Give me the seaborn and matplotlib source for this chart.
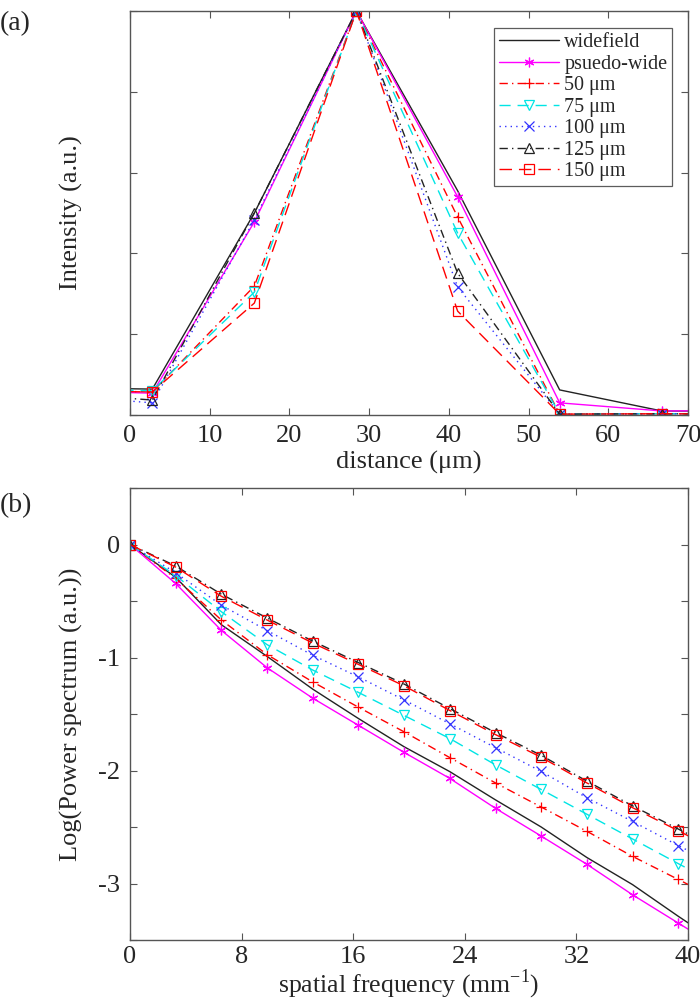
import matplotlib
matplotlib.use("Agg")
import matplotlib.pyplot as plt
import seaborn as sns

sns.set_style("ticks")
plt.rcParams['font.family'] = ['Liberation Serif', 'DejaVu Serif']
plt.rcParams['mathtext.fontset'] = 'custom'
plt.rcParams['mathtext.rm'] = 'Liberation Serif'

# ---- panel (a): line profile across the spot ----
distance = [-10.0, 2.8, 15.6, 28.4, 41.1, 53.9, 66.7, 79.5]
prof_widefield = [0.068, 0.064, 0.500, 1.0, 0.555, 0.062, 0.010, 0.009]
prof_pseudo = [0.060, 0.054, 0.478, 1.0, 0.540, 0.030, 0.010, 0.011]
prof_50 = [0.062, 0.057, 0.319, 1.0, 0.490, 0.002, 0.003, 0.002]
prof_75 = [0.066, 0.060, 0.304, 1.0, 0.450, 0.002, 0.003, 0.002]
prof_100 = [0.050, 0.030, 0.483, 1.0, 0.317, 0.002, 0.003, 0.002]
prof_125 = [0.055, 0.037, 0.500, 1.0, 0.351, 0.002, 0.003, 0.002]
prof_150 = [0.060, 0.057, 0.277, 1.0, 0.257, 0.002, 0.003, 0.002]

# ---- panel (b): log power spectrum ----
freq = [0.0, 3.275, 6.55, 9.825, 13.1, 16.375, 19.65, 22.925, 26.2,
        29.475, 32.75, 36.025, 39.3, 42.575]
ps_widefield = [0.0, -0.29, -0.71, -0.99, -1.28, -1.54, -1.79, -2.01, -2.26,
                -2.50, -2.77, -3.01, -3.29, -3.56]
ps_pseudo = [0.0, -0.345, -0.76, -1.09, -1.36, -1.60, -1.84, -2.07, -2.335,
             -2.58, -2.83, -3.10, -3.35, -3.60]
ps_50 = [0.0, -0.30, -0.668, -0.974, -1.216, -1.44, -1.658, -1.886, -2.11,
         -2.323, -2.538, -2.76, -2.964, -3.17]
ps_75 = [0.0, -0.275, -0.595, -0.886, -1.111, -1.309, -1.513, -1.717, -1.95,
         -2.168, -2.387, -2.606, -2.824, -3.04]
ps_100 = [0.0, -0.25, -0.537, -0.761, -0.98, -1.172, -1.376, -1.586, -1.798,
          -2.008, -2.241, -2.451, -2.664, -2.87]
ps_125 = [0.0, -0.19, -0.44, -0.65, -0.855, -1.045, -1.235, -1.452, -1.665,
          -1.866, -2.094, -2.313, -2.518, -2.72]
ps_150 = [0.0, -0.20, -0.458, -0.668, -0.872, -1.061, -1.251, -1.469, -1.682,
          -1.883, -2.11, -2.329, -2.533, -2.74]

labels = ['widefield', 'psuedo-wide', '50 μm', '75 μm', '100 μm', '125 μm', '150 μm']
colors = ['#222222', '#ff00ff', '#ff0000', '#00e5e5', '#3333ff', '#222222', '#ff0000']
markers = [None, (6, 2, 0), '+', 'v', 'x', '^', 's']
dashes = ['-', '-', (0, (6, 3, 1, 3)), (0, (8, 5)), (0, (1, 3)), (0, (6, 3, 1, 3)), (0, (9, 5))]

profiles = [prof_widefield, prof_pseudo, prof_50, prof_75, prof_100, prof_125, prof_150]
spectra = [ps_widefield, ps_pseudo, ps_50, ps_75, ps_100, ps_125, ps_150]

FS = 19

fig = plt.figure(figsize=(7, 10.06), dpi=100)
ax1 = fig.add_axes([0.1857, 0.5875, 0.7972, 0.4016])
ax2 = fig.add_axes([0.1857, 0.0656, 0.7972, 0.4493])


def draw(ax, x, series):
    for y, lab, c, m, ls in zip(series, labels, colors, markers, dashes):
        sns.lineplot(x=x, y=y, ax=ax, color=c, linestyle=ls, linewidth=1.0,
                     marker=m, markersize=7, markerfacecolor='none',
                     markeredgecolor=c, markeredgewidth=0.9, label=lab,
                     legend=False)


draw(ax1, distance, profiles)
draw(ax2, freq, spectra)

for ax in (ax1, ax2):
    for s in ax.spines.values():
        s.set_color('#555555')
        s.set_linewidth(1.0)
    ax.tick_params(direction='in', top=True, right=True, length=5,
                   width=0.8, color='#555555', labelsize=FS, pad=7)
    ax.yaxis.set_label_coords(-0.085, 0.5)

ax1.set_xlim(0, 70)
ax1.set_ylim(0, 1)
ax1.set_xticks(range(0, 71, 10))
ax1.set_yticks([0, 0.2, 0.4, 0.6, 0.8, 1.0])
ax1.set_yticklabels([])
ax1.set_xlabel('distance (μm)', fontsize=FS, labelpad=3)
ax1.set_ylabel('Intensity (a.u.)', fontsize=FS)
leg = ax1.legend(loc='upper right', bbox_to_anchor=(0.972, 0.958), fontsize=14.5,
                 frameon=True, fancybox=False, handlelength=3.0, handletextpad=0.25,
                 labelspacing=0.12, borderpad=0.25, borderaxespad=0.0)
leg.get_frame().set_edgecolor('#333333')
leg.get_frame().set_linewidth(0.9)

ax2.set_xlim(0, 40)
ax2.set_ylim(-3.5, 0.5)
ax2.set_xticks(range(0, 41, 8))
ax2.set_yticks([-3.5, -3, -2.5, -2, -1.5, -1, -0.5, 0, 0.5])
ax2.set_yticklabels(['', '-3', '', '-2', '', '-1', '', '0', ''])
ax2.tick_params(axis='x', pad=4)
ax2.set_xlabel('spatial frequency (mm$^{-1}$)', fontsize=18.5, labelpad=0)
ax2.set_ylabel('Log(Power spectrum (a.u.))', fontsize=FS)

fig.text(0.0, 0.977, '(a)', fontsize=20, va='center', ha='left')
fig.text(0.0, 0.497, '(b)', fontsize=20, va='center', ha='left')

fig.savefig('out.png', dpi=100)
